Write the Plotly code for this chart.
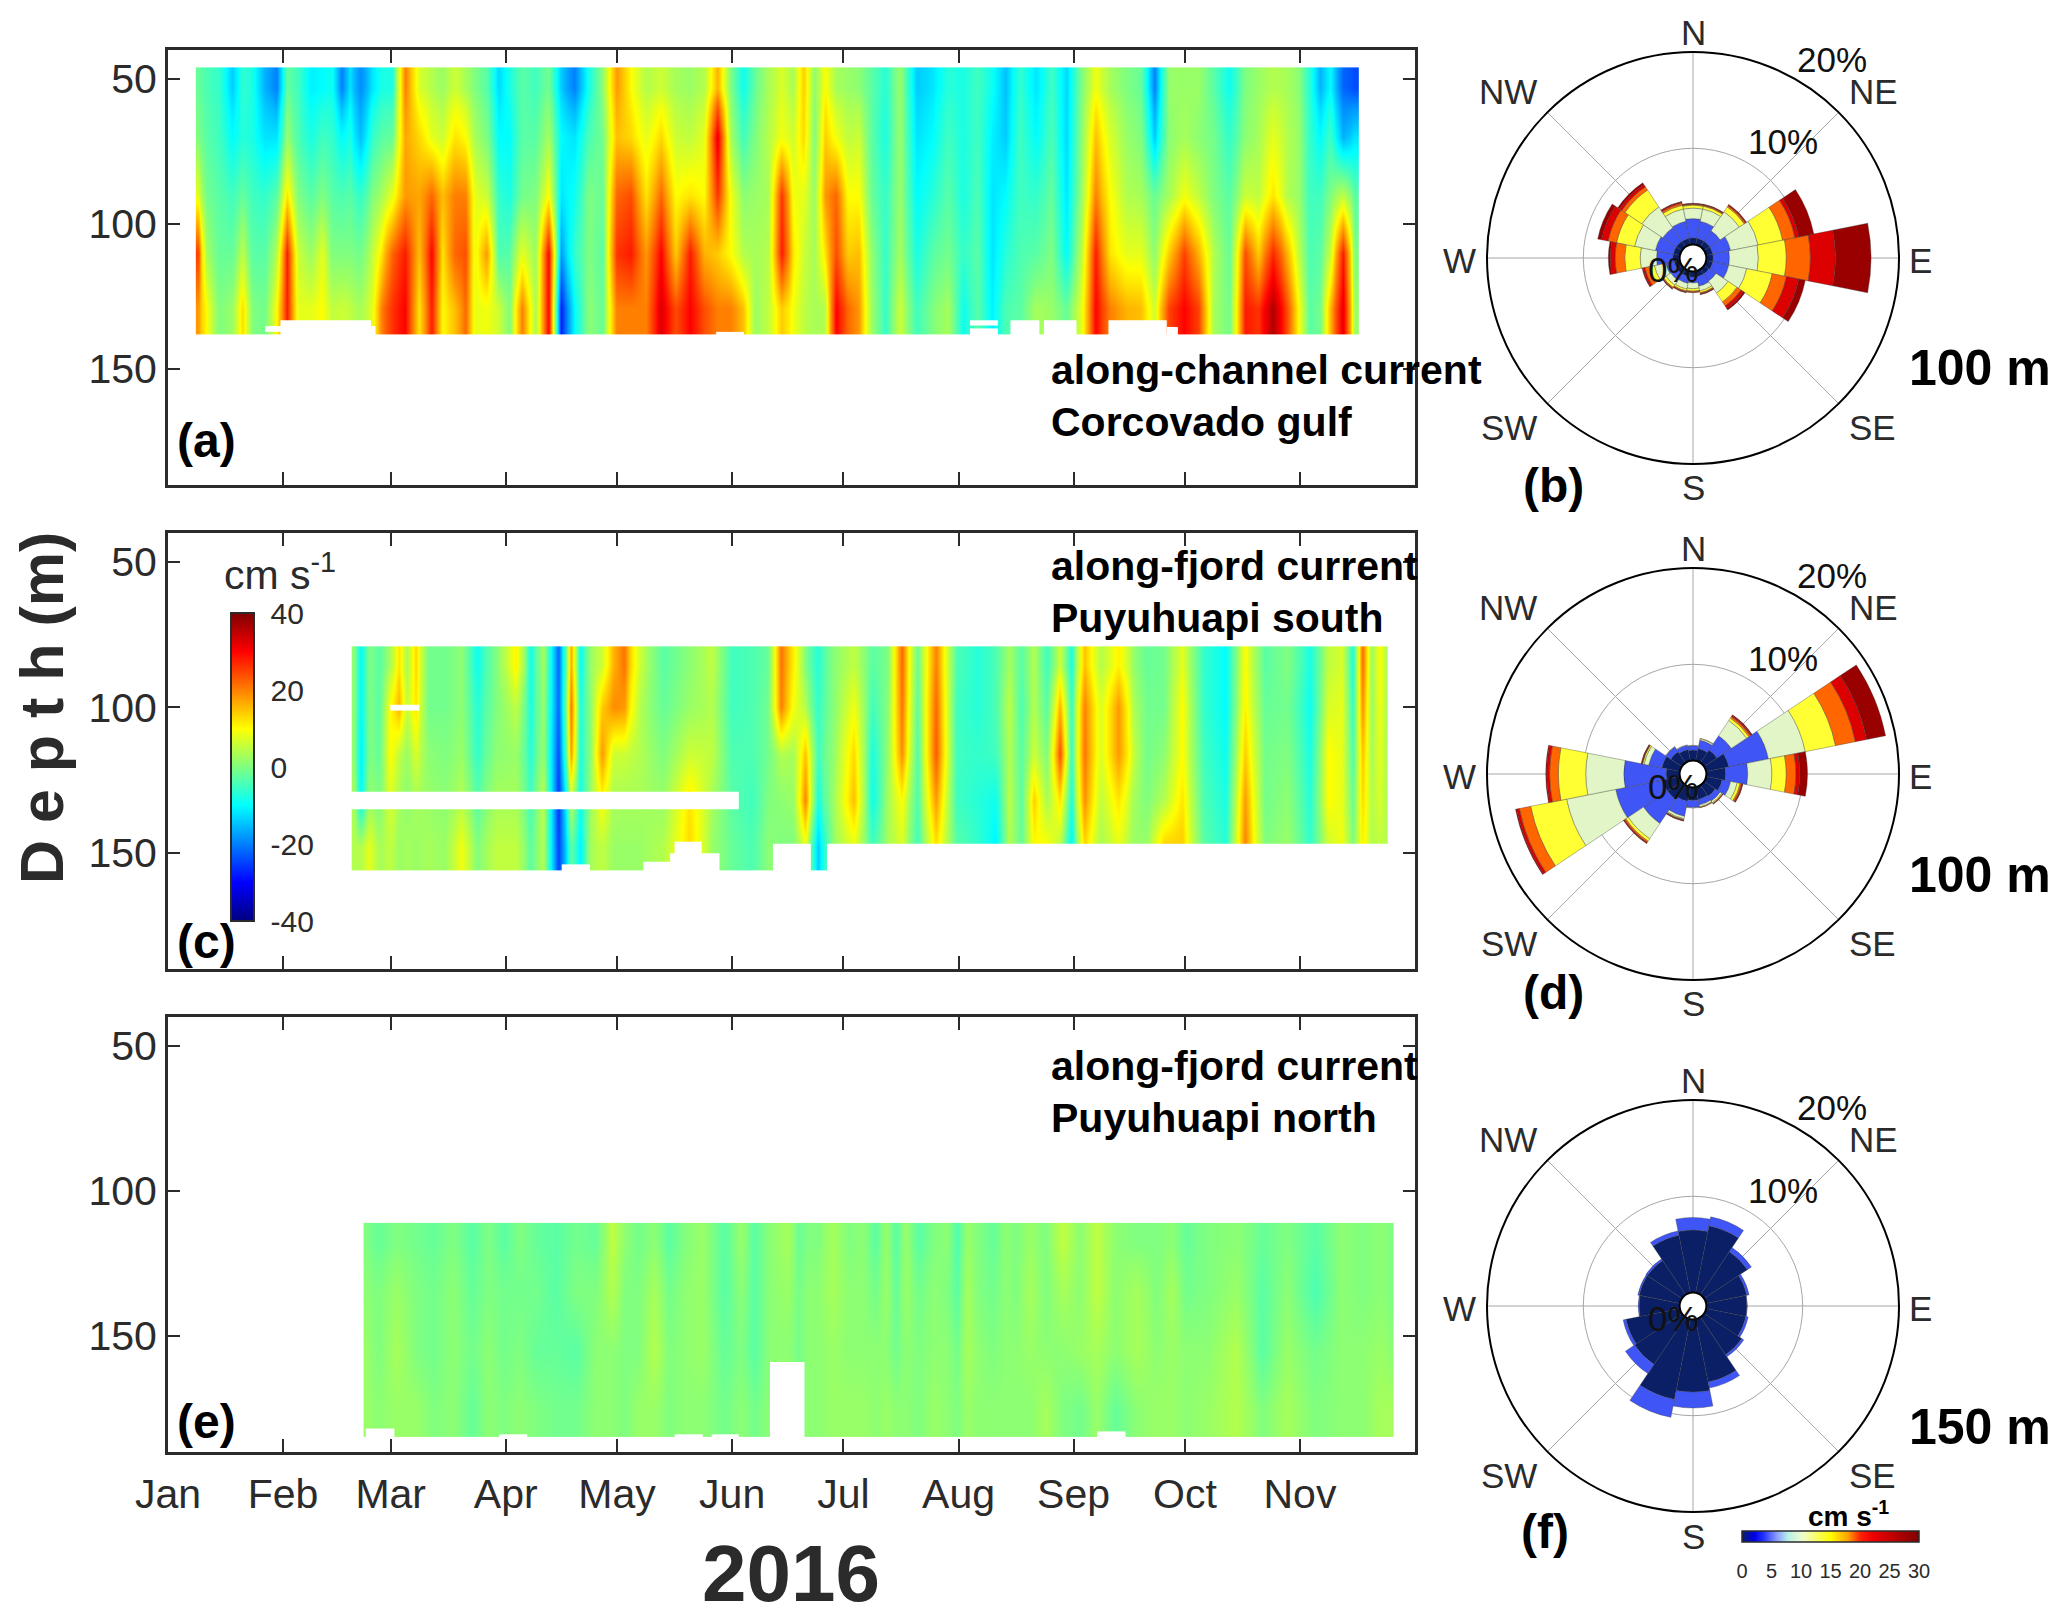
"""Along-channel current sections and current roses, 2016."""

from datetime import datetime, timedelta

import numpy as np
import plotly.graph_objects as go

W, H = 2067, 1621
FONT = "Liberation Sans"
INK = "#2b2b2b"

MONTH_DAYS = [0, 31, 60, 91, 121, 152, 182, 213, 244, 274, 305]
MONTH_LABELS = ["Jan", "Feb", "Mar", "Apr", "May", "Jun", "Jul", "Aug", "Sep", "Oct", "Nov"]
DEPTH_TICKS = [50, 100, 150]

# panel (a): day of year, then speed at each depth band
A_DEPTH_EDGES = [46, 60, 80, 100, 120, 138]
A_DAYS = [
    7.7, 10.2, 13.2, 18.0, 19.8, 22.8, 25.8, 29.4, 31.9, 34.9, 38.5, 41.5, 43.9, 46.9, 48.7, 51.7,
    55.3, 57.1, 60.1, 64.0, 67.4, 71.3, 73.4, 77.6, 80.0, 82.4, 85.4, 89.6, 91.4, 95.6, 98.6, 102.9,
    105.6, 109.5, 113.7, 116.7, 120.9, 124.5, 128.7, 132.9, 136.5, 140.8, 144.4, 148.0, 151.6, 155.2,
    157.6, 161.8, 165.4, 168.4, 170.8, 174.5, 176.9, 179.9, 183.0, 186.0, 189.7, 193.3, 196.9, 201.9,
    205.9, 210.1, 214.3, 217.9, 222.1, 225.5, 229.4, 234.2, 237.8, 242.2, 246.2, 250.1, 253.4, 258.2,
    262.5, 265.5, 269.7, 273.7, 277.5, 281.7, 285.9, 290.7, 293.1, 298.0, 301.6, 304.6, 307.6, 310.6,
    313.0, 316.3, 320.8,
]
A_U = [
    [-2, 0, 8, 25, 18], [-4, -3, -1, 3, 10], [-6, -5, -3, -2, 0], [-14, -10, -5, -2, 2], [-6, -7, -2, 5, 13],
    [-8, -8, -5, -3, 0], [-16, -12, -6, -3, -1], [-20, -12, -3, 4, 10], [-2, 2, 12, 28, 28], [-5, -4, 0, 6, 8],
    [-11, -8, -3, 2, 8], [-10, -5, 0, 8, 10], [-9, -6, -3, 0, 5], [-20, -10, -4, 0, 6], [-12, -8, -3, 0, 5],
    [-19, -15, -6, -1, 3], [-12, -6, 0, 5, 8], [-8, -3, 3, 12, 20], [-8, -2, 8, 22, 26], [20, 17, 18, 28, 30],
    [7, 13, 17, 15, 12], [4, 8, 22, 30, 28], [2, 6, 15, 12, 10], [6, 12, 20, 22, 15], [3, 10, 20, 24, 22],
    [0, 3, 8, 8, 8], [-3, 0, 6, 18, 9], [-13, -10, -6, -4, 6], [-8, -10, -8, -3, 0], [-3, -3, -1, 8, 20],
    [-5, -3, 0, 2, 3], [-1, 3, 10, 30, 30], [-14, -10, -12, -18, -28], [-20, -12, -9, -6, -10], [-8, -4, 0, 0, 1],
    [1, -1, -2, -3, -2], [18, 15, 22, 26, 20], [10, 13, 24, 28, 20], [4, 8, 12, 18, 20], [6, 13, 22, 30, 33],
    [3, 6, 10, 14, 24], [2, 5, 12, 28, 30], [4, 8, 10, 16, 24], [16, 32, 26, 14, 20], [0, 3, 9, 10, 20],
    [-9, -5, 1, 4, 15], [-2, 0, 2, 3, 2], [3, 4, 3, 4, 5], [7, 9, 26, 28, 14], [3, 6, 9, 12, 9],
    [14, 13, 8, 6, 5], [1, 0, 2, 3, 3], [10, 14, 18, 12, 4], [3, 9, 22, 24, 30], [2, 5, 10, 14, 22],
    [1, 6, 10, 15, 18], [-3, -3, -2, 1, 2], [-7, -8, -6, -6, -6], [2, 2, 2, 3, 6], [-14, -12, -10, -8, -5],
    [-12, -10, -7, -3, 0], [-7, -5, -3, -1, 3], [-8, -8, -8, -6, -9], [-5, -5, -4, -3, -3], [-9, -11, -12, -12, -11],
    [-15, -14, -10, -7, -4], [-6, -5, -5, -4, -3], [-12, -10, -6, -3, 3], [-5, -4, -2, 0, 2], [-13, -13, -12, -10, -2],
    [0, 1, 2, 5, 8], [9, 15, 20, 28, 30], [3, 7, 10, 12, 20], [0, 2, 4, 8, 16], [-2, 0, 3, 8, 15],
    [-20, -14, -2, 1, 6], [2, 1, 3, 14, 25], [2, 3, 9, 25, 30], [2, 1, 5, 16, 25], [-3, -1, 0, 4, 3],
    [-9, -6, -3, -2, -1], [0, 1, 6, 24, 28], [2, 3, 5, 14, 26], [4, 8, 12, 27, 36], [3, 4, 4, 16, 24],
    [1, 2, 2, 5, 10], [-7, -6, -5, -4, -3], [-16, -10, -5, -3, -1], [-10, -5, 0, 6, 16], [-22, -16, 5, 28, 32],
    [-24, -12, -3, 0, 2],
]
# missing data: first day, last day, top depth, bottom depth
A_GAPS = [
    (26.2, 31.9, 135.2, 137.2), (30.3, 54.7, 133.2, 138.5), (31.9, 55.9, 135.2, 138.5), (147.7, 155.2, 137.2, 138.5),
    (216.1, 223.6, 133.2, 135), (216.1, 223.6, 136, 138.5), (227, 234.8, 133.2, 138.5), (236, 244.8, 133.2, 138.5),
    (253.4, 269.1, 133.2, 138.5), (269.1, 272.1, 135.5, 138.5),
]

# panel (c)
C_DEPTH_EDGES = [79, 92, 108, 124, 140, 156]
C_DAYS = [
    49.9, 51.7, 54.1, 56.5, 60.1, 62.2, 64.4, 66.4, 69.8, 74.6, 79.4, 83.0, 87.8, 94.8, 97.2, 101.1,
    105.3, 108.9, 110.7, 113.7, 116.7, 120.3, 122.5, 126.3, 133.5, 140.8, 146.8, 151.6, 157.6, 161.8,
    165.1, 168.4, 172.0, 174.5, 179.3, 184.8, 190.3, 193.9, 197.8, 201.4, 207.1, 211.9, 218.5, 223.4,
    226.4, 230.0, 233.2, 236.6, 240.6, 243.0, 246.8, 251.0, 256.7, 260.0, 263.1, 268.5, 272.9, 278.7,
    285.9, 289.5, 295.5, 301.6, 308.2, 312.4, 316.6, 319.4, 321.8, 324.4, 326.2, 328.6,
]
C_U = [
    [1, 1, 1, 3, 4], [-10, -10, -11, -10, 4], [0, 0, 0, 2, 8], [-3, -3, -2, 0, 3], [3, 10, 10, 7, 5],
    [12, 16, 5, 3, 2], [3, 5, 2, 1, 3], [13, 12, 7, 3, 2], [-1, -1, 1, 2, 3], [-1, -1, 0, 1, 2],
    [1, 1, 2, 4, 9], [-9, -7, -6, -3, 0], [0, 0, 1, 3, 5], [11, 5, 2, 3, 5], [-9, -8, -7, -5, -3],
    [3, 2, 2, 5, 4], [-22, -22, -24, -26, -25], [17, 21, 18, 5, -2], [-10, -8, -8, -9, -11], [2, 1, 1, 2, 3],
    [6, 14, 18, 10, 5], [16, 19, 6, 3, 2], [21, 18, 6, 3, 2], [6, 4, 4, 3, 2], [-3, -2, 0, 2, 4],
    [1, 2, 6, 12, 13], [5, 4, 5, 3, 2], [-5, -5, -4, -3, -2], [-4, -4, -4, -5, -4], [-2, -1, -1, 0, 1],
    [21, 20, 4, 1, 0], [11, 9, 3, 2, 0], [0, 4, 15, 20, 8], [-7, -6, -5, -8, -14], [1, 1, 2, 3, 2],
    [5, 9, 13, 15, 8], [-3, -5, -8, -9, -5], [0, 1, 2, 3, 3], [22, 21, 19, 10, 7], [-2, -3, -4, -4, -5],
    [20, 22, 23, 18, 12], [-4, -5, -5, -5, -3], [-7, -7, -6, -7, -6], [-4, -4, -5, -9, -11], [3, 5, 4, 5, 4],
    [-3, -4, -3, -3, -2], [4, 4, 6, 14, 10], [-5, -3, 0, 3, 10], [6, 16, 24, 12, 4], [-8, -6, -6, -8, -11],
    [15, 20, 21, 19, 13], [4, 7, 7, 5, 3], [11, 18, 18, 12, 8], [2, 4, 6, 3, 2], [-2, -1, -1, 0, 2],
    [-1, -1, 1, 4, 14], [8, 10, 10, 12, 14], [-6, -6, -5, -4, -3], [-10, -10, -9, -8, -7], [10, 11, 14, 18, 20],
    [-3, -2, -1, -1, 0], [0, -1, 0, 1, 2], [-8, -9, -8, -7, -6], [5, 7, 10, 10, 6], [7, 8, 8, 8, 9],
    [-8, -6, -4, -2, 0], [22, 19, 15, 13, 11], [2, 2, 3, 4, 4], [10, 9, 8, 7, 5], [4, 4, 4, 4, 4],
]
C_GAPS = [
    (59.9, 67.7, 99.1, 101.1), (49, 153.8, 129, 135), (106.1, 113.7, 154, 157), (128.1, 135.3, 153.1, 157),
    (136.5, 143.8, 146.2, 157), (135.3, 148.6, 150.2, 157), (163, 173.2, 146.9, 157), (177.6, 329.5, 146.9, 157),
]

# panel (e)
E_DEPTH_EDGES = [111, 125, 145, 165, 184.8]
E_DAYS = [
    52.7, 56.5, 61.3, 67.4, 71.0, 77.0, 81.8, 86.6, 90.2, 95.0, 98.6, 104.7, 109.5, 115.5, 119.7, 123.3,
    126.3, 131.1, 135.4, 138.4, 143.8, 150.4, 154.6, 157.6, 162.4, 167.2, 170.2, 171.6, 175.2, 178.8,
    183.6, 187.2, 190.9, 193.3, 195.9, 198.7, 201.9, 206.5, 210.1, 212.8, 214.9, 218.5, 222.1, 225.8,
    228.2, 232.4, 236.0, 241.4, 245.6, 250.4, 254.6, 261.3, 266.7, 270.3, 274.5, 278.7, 288.9, 294.4,
    301.6, 308.8, 316.6, 322.0, 326.8, 330.1,
]
E_U = [
    [0, 1, 2, 2], [-2, 0, 0, 1], [0, 2, 3, 2], [-1, 0, 0, 2], [-2, -1, -1, 0], [0, 1, 1, 1], [-3, -2, -1, -2],
    [0, 0, 1, 1], [-3, -1, -1, 0], [0, -1, 0, 1], [-2, -1, -2, 0], [-3, -3, -2, -1], [-1, 0, -3, -1], [-2, 0, 1, 1],
    [5, 4, 1, 1], [1, 0, 0, 0], [-1, 0, 0, 2], [1, 3, 4, 2], [-3, -1, 0, 0], [0, 1, 1, 1], [2, 2, 2, 1],
    [-3, -3, -2, -1], [2, 1, 0, 1], [-3, -3, -3, -1], [1, 1, 1, 1], [3, 2, 1, 3], [-2, -1, -1, 0], [0, 1, 1, 1],
    [0, 1, 1, 1], [3, 3, 2, 2], [0, 1, 1, 2], [1, 1, 1, 2], [-3, -1, 1, 1], [2, 2, 1, 2], [-3, -2, -1, 1],
    [2, 2, 1, 1], [-3, -1, 0, 0], [0, 1, 1, 2], [1, 0, 1, 1], [-4, -3, -1, 0], [2, 3, 3, 2], [0, 0, 1, 1],
    [-2, -1, 0, 1], [1, 1, 1, 1], [0, 0, 1, 1], [2, 3, 2, 1], [0, 0, 1, 3], [5, 3, 1, 0], [1, 1, 2, -1],
    [5, 5, 3, 2], [1, 1, 1, -2], [0, 3, 3, 1], [0, 0, 1, 2], [1, 3, 2, 2], [-2, -1, 1, 1], [0, 0, 1, 2],
    [1, 2, 4, 4], [-2, -3, -3, 0], [0, 1, 2, 3], [-3, -4, -1, 0], [1, 1, 1, 1], [0, 0, 1, 1], [1, 1, 2, 3],
    [0, 0, 1, 3],
]
E_GAPS = [
    (53.3, 61, 181.9, 185.2), (89.2, 96.8, 183.9, 185.2), (136.5, 144.1, 183.9, 185.2), (146.5, 153.8, 183.9, 185.2),
    (162.2, 171.5, 159, 185.2), (250.4, 258, 182.9, 185.2),
]

JET = [
    [0, "#00007f"], [0.125, "#0000ff"], [0.375, "#00ffff"], [0.5, "#80ff80"],
    [0.625, "#ffff00"], [0.875, "#ff0000"], [1, "#7f0000"],
]
CURRENT_TICKS = [-40, -20, 0, 20, 40]
CURRENT_TICK_LABELS = ["-40", "-20", "0", "20", "40"]

# current roses: cumulative percent at the top of each speed band
DIRECTIONS = [0, 22.5, 45, 67.5, 90, 112.5, 135, 157.5, 180, 202.5, 225, 247.5, 270, 292.5, 315, 337.5]
BAND_COLORS = ["#0a1f66", "#3f55f5", "#e2f5c6", "#ffff33", "#ff6600", "#dd0000", "#990000"]
ROSE_B = [
    [.7, 2.7, 3.8, 4.1, 4.2, 4.25, 4.3], [.7, 2.5, 3.8, 4.1, 4.2, 4.25, 4.3], [.7, 2.0, 4.4, 5.0, 5.15, 5.25, 5.3],
    [.7, 2.6, 5.5, 8.1, 9.4, 9.8, 11.4], [.7, 2.4, 5.4, 8.3, 10.8, 13.4, 17.1], [.7, 2.4, 4.3, 7.0, 8.5, 9.8, 10.5],
    [.6, 1.5, 3.0, 4.1, 4.6, 4.9, 5.1], [.6, 1.6, 2.1, 2.3, 2.4, 2.45, 2.5], [.6, 1.2, 1.8, 2.05, 2.15, 2.2, 2.2],
    [.6, 1.3, 1.9, 2.1, 2.2, 2.25, 2.3], [.6, 1.4, 2.0, 2.3, 2.4, 2.45, 2.5], [.6, 1.5, 2.7, 3.3, 3.7, 3.9, 4.0],
    [.7, 2.4, 4.1, 5.7, 6.7, 7.2, 7.4], [.7, 2.6, 4.8, 6.7, 7.6, 8.3, 8.7], [.7, 2.4, 5.0, 7.1, 7.5, 7.8, 8.0],
    [.7, 2.5, 3.8, 4.2, 4.4, 4.55, 4.6],
]
ROSE_D = [
    [1.1, 1.55, 1.6, 1.6, 1.6, 1.6, 1.6], [1.3, 2.2, 2.35, 2.4, 2.4, 2.4, 2.4], [1.6, 3.4, 5.3, 5.6, 5.8, 5.9, 6.0],
    [2.4, 6.6, 10.5, 13.7, 15.8, 17.0, 19.0], [2.0, 4.3, 6.8, 8.3, 9.3, 9.7, 10.5], [1.7, 2.6, 3.3, 3.6, 3.75, 3.85, 3.9],
    [1.4, 2.0, 2.2, 2.3, 2.35, 2.4, 2.4], [1.3, 1.9, 2.1, 2.15, 2.2, 2.2, 2.2], [1.35, 2.1, 2.15, 2.15, 2.15, 2.15, 2.15],
    [1.5, 3.1, 3.35, 3.45, 3.5, 3.55, 3.6], [1.8, 4.8, 6.7, 7.0, 7.15, 7.25, 7.3], [1.8, 6.8, 12.0, 15.8, 17.0, 17.3, 17.4],
    [1.4, 5.8, 9.75, 12.6, 13.5, 13.8, 13.9], [1.9, 3.3, 3.8, 3.95, 4.0, 4.05, 4.1], [1.4, 2.0, 2.05, 2.05, 2.05, 2.05, 2.05],
    [1.2, 1.65, 1.7, 1.7, 1.7, 1.7, 1.7],
]
ROSE_F = [
    [6.5, 7.8], [7.1, 8.05], [5.4, 5.9], [4.3, 4.55], [4.2, 4.25], [4.2, 4.45], [4.7, 4.95], [6.65, 7.3],
    [7.55, 9.2], [8.5, 10.4], [5.9, 7.05], [5.7, 6.0], [4.2, 4.3], [4.3, 4.45], [4.3, 4.5], [6.1, 6.55],
]
ROSE_SCALE = [
    [0, "#0a1f66"], [0.07, "#0000e6"], [0.12, "#2030ff"], [0.2, "#8fa0ff"], [0.26, "#b5f0e8"], [0.34, "#f0fbd0"],
    [0.5, "#ffff00"], [0.6, "#ffa000"], [0.67, "#ff2000"], [0.74, "#ee0000"], [0.85, "#c00000"], [1, "#800000"],
]
ROSE_LEGEND_TICKS = [0, 5, 10, 15, 20, 25, 30]

COMPASS = [
    ("N", 0, -226), ("S", 0, 230), ("E", 227, 2), ("W", -234, 2), ("NW", -185, -167),
    ("NE", 180, -167), ("SW", -184, 169), ("SE", 179, 169),
]
RING_LABELS = [("20%", 139, -199), ("10%", 90, -116), ("0%", -20, 12)]

START = datetime(2016, 1, 1)
X_RANGE = [START, START + timedelta(days=336)]


def day_to_date(day):
    return START + timedelta(days=float(day))


def day_edges(days, first, last):
    mids = (np.array(days[:-1]) + np.array(days[1:])) / 2
    return [day_to_date(d) for d in [first, *mids, last]]


def note(text, x, y, size, bold=False, color="black", anchor="center"):
    return dict(
        text=f"<b>{text}</b>" if bold else text,
        x=x / W, y=1 - y / H, xref="paper", yref="paper",
        xanchor=anchor, yanchor="middle", showarrow=False,
        font=dict(family=FONT, size=size, color=color),
    )


fig = go.Figure()
shapes = []
sections = [
    ("", A_DAYS, A_U, A_DEPTH_EDGES, A_GAPS, 7.5, 320.8, 50, 485),
    ("2", C_DAYS, C_U, C_DEPTH_EDGES, C_GAPS, 49.5, 328.6, 533, 969),
    ("3", E_DAYS, E_U, E_DEPTH_EDGES, E_GAPS, 52.7, 330.1, 1017, 1452),
]
for suffix, days, u, depth_edges, gaps, first, last, top, bottom in sections:
    colorbar = None
    if suffix == "2":
        colorbar = dict(
            x=231 / W, xanchor="left", y=1 - 613 / H, yanchor="top", xpad=0, ypad=0,
            len=308, lenmode="pixels", thickness=23, thicknessmode="pixels",
            tickvals=CURRENT_TICKS, ticktext=CURRENT_TICK_LABELS,
            ticks="outside", ticklen=10, tickcolor="white",
            tickfont=dict(family=FONT, size=30, color=INK),
            outlinewidth=2, outlinecolor=INK,
        )
    fig.add_trace(go.Heatmap(
        x=day_edges(days, first, last), y=depth_edges, z=np.array(u).T.tolist(),
        zsmooth="best", colorscale=JET, zmin=-40, zmax=40,
        showscale=suffix == "2", colorbar=colorbar,
        xaxis=f"x{suffix}", yaxis=f"y{suffix}",
    ))
    for d0, d1, z0, z1 in gaps:
        shapes.append(dict(
            type="rect", xref=f"x{suffix}", yref=f"y{suffix}", layer="above",
            x0=day_to_date(d0), x1=day_to_date(d1), y0=z0, y1=z1,
            fillcolor="white", line_width=0,
        ))
    fig.update_layout({
        f"xaxis{suffix}": dict(
            domain=[168 / W, 1415 / W], range=X_RANGE, anchor=f"y{suffix}", type="date",
            tickvals=[day_to_date(d) for d in MONTH_DAYS], ticktext=MONTH_LABELS,
            showticklabels=suffix == "3", ticks="inside", ticklen=13, tickwidth=2, tickcolor=INK,
            mirror="ticks", showline=True, linewidth=3, linecolor=INK, showgrid=False, zeroline=False,
            tickfont=dict(family=FONT, size=41, color=INK), ticklabelstandoff=4,
        ),
        f"yaxis{suffix}": dict(
            domain=[1 - bottom / H, 1 - top / H], range=[190, 40], anchor=f"x{suffix}",
            tickvals=DEPTH_TICKS, ticks="inside", ticklen=12, tickwidth=2, tickcolor=INK,
            mirror="ticks", showline=True, linewidth=3, linecolor=INK, showgrid=False, zeroline=False,
            tickfont=dict(family=FONT, size=41, color=INK), ticklabelstandoff=0,
        ),
    })

# only here to carry the speed colour bar under rose (f)
fig.add_trace(go.Scatter(
    x=[START - timedelta(days=30), START - timedelta(days=20)], y=[45, 45], mode="markers",
    marker=dict(
        color=[ROSE_LEGEND_TICKS[0], ROSE_LEGEND_TICKS[-1]], cmin=0, cmax=30, colorscale=ROSE_SCALE,
        opacity=0, showscale=True,
        colorbar=dict(
            orientation="h", x=1742 / W, xanchor="left", y=1 - 1531 / H, yanchor="top", xpad=0, ypad=0,
            len=177, lenmode="pixels", thickness=11, thicknessmode="pixels",
            tickvals=ROSE_LEGEND_TICKS, ticks="outside", ticklen=12, tickcolor="white",
            tickfont=dict(family=FONT, size=20, color=INK), outlinewidth=1.5, outlinecolor=INK,
        ),
    ),
    hoverinfo="skip", showlegend=False,
))

roses = [("polar", ROSE_B, 258), ("polar2", ROSE_D, 774), ("polar3", ROSE_F, 1306)]
annotations = []
for subplot, table, cy in roses:
    cumulative = np.array(table)
    bands = np.diff(cumulative, axis=1, prepend=0)
    for i in range(bands.shape[1]):
        fig.add_trace(go.Barpolar(
            theta=DIRECTIONS, r=bands[:, i].tolist(), width=22.5, subplot=subplot,
            marker=dict(color=BAND_COLORS[i], line=dict(color="rgba(60,60,60,0.45)", width=0.8)),
            showlegend=False,
        ))
    fig.update_layout({subplot: dict(
        domain=dict(x=[(1693 - 206) / W, (1693 + 206) / W], y=[1 - (cy + 206) / H, 1 - (cy - 206) / H]),
        barmode="stack", hole=0.065, bgcolor="white",
        radialaxis=dict(
            range=[0, 20], tickvals=[10], showticklabels=False, ticks="", angle=90,
            showline=False, gridcolor="#a6a6a6", gridwidth=1.3,
        ),
        angularaxis=dict(
            rotation=90, direction="clockwise", tickvals=[0, 45, 90, 135, 180, 225, 270, 315],
            showticklabels=False, ticks="", showline=True, linecolor="black", linewidth=2,
            gridcolor="#a6a6a6", gridwidth=1.3,
        ),
    )})
    for label, dx, dy in COMPASS:
        annotations.append(note(label, 1693 + dx, cy + dy, 35, color=INK))
    for label, dx, dy in RING_LABELS:
        annotations.append(note(label, 1693 + dx, cy + dy, 35, color="#111"))

annotations += [
    note("along-channel current", 1049, 370, 41, bold=True, anchor="left"),
    note("Corcovado gulf", 1049, 422, 41, bold=True, anchor="left"),
    note("along-fjord current", 1049, 566, 41, bold=True, anchor="left"),
    note("Puyuhuapi south", 1049, 618, 41, bold=True, anchor="left"),
    note("along-fjord current", 1049, 1066, 41, bold=True, anchor="left"),
    note("Puyuhuapi north", 1049, 1118, 41, bold=True, anchor="left"),
    note("(a)", 206, 441, 48, bold=True),
    note("(c)", 206, 942, 48, bold=True),
    note("(e)", 206, 1421, 48, bold=True),
    note("(b)", 1553, 485, 48, bold=True),
    note("(d)", 1553, 992, 48, bold=True),
    note("(f)", 1545, 1531, 48, bold=True),
    note("100 m", 1980, 368, 50, bold=True),
    note("100 m", 1980, 875, 50, bold=True),
    note("150 m", 1980, 1427, 50, bold=True),
    note("cm s<sup>-1</sup>", 222, 572, 41, color=INK, anchor="left"),
    note("cm s<sup>-1</sup>", 1848, 1514, 28, bold=True),
    note("2016", 791, 1573, 80, bold=True, color=INK),
]
depth_label = note("D e p t h (m)", 42, 708, 61, bold=True, color=INK)
depth_label["textangle"] = -90
annotations.append(depth_label)

fig.update_layout(
    width=W, height=H, margin=dict(l=0, r=0, t=0, b=0, autoexpand=False),
    paper_bgcolor="white", plot_bgcolor="white", showlegend=False,
    shapes=shapes, annotations=annotations,
    font=dict(family=FONT, color=INK),
)
fig.write_html("out.html", config={"displayModeBar": False}, post_script="document.body.style.margin='0';")
